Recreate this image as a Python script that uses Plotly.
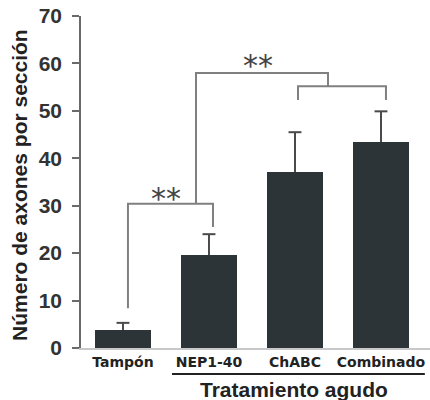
import plotly.graph_objects as go

categories = ["Tampón", "NEP1-40", "ChABC", "Combinado"]
means = [3.8, 19.6, 37.1, 43.4]
errors = [1.5, 4.4, 8.4, 6.5]
y_ticks = [0, 10, 20, 30, 40, 50, 60, 70]
y_title = "Número de axones por sección"
group_label = "Tratamiento agudo"
sig_label = "**"

# brackets: (x points, y points) in data units
bracket1_x = [0.058, 0.058, 1.047, 1.047]
bracket1_y = [8.4, 30.4, 30.4, 25.5]
bracket2_x = [0.849, 0.849, 2.384, 2.384]
bracket2_y = [30.4, 58.0, 58.0, 55.2]
bracket3_x = [2.035, 2.035, 3.058, 3.058]
bracket3_y = [52.3, 55.2, 55.2, 52.3]

xpos = list(range(len(categories)))

fig = go.Figure()
fig.add_trace(go.Bar(
    x=xpos, y=means, width=0.645,
    marker=dict(color="#2c3437", line=dict(width=0)),
    showlegend=False,
))

# upper error bars (stem + cap) built from the data arrays
cap_half = 0.075
ex, ey = [], []
for xi, m, e in zip(xpos, means, errors):
    ex += [xi, xi, None, xi - cap_half, xi + cap_half, None]
    ey += [m, m + e, None, m + e, m + e, None]
fig.add_trace(go.Scatter(x=ex, y=ey, mode="lines",
                         line=dict(color="#4a4a4a", width=2),
                         showlegend=False, hoverinfo="skip"))

bl = dict(color="#808080", width=2)
for bx, by in [(bracket1_x, bracket1_y), (bracket2_x, bracket2_y), (bracket3_x, bracket3_y)]:
    fig.add_trace(go.Scatter(x=bx, y=by, mode="lines", line=bl,
                             showlegend=False, hoverinfo="skip"))

star_font = dict(family="DejaVu Sans", size=30, color="#444444")
fig.add_annotation(x=0.5, y=31.6, xref="x", yref="y", text=sig_label,
                   showarrow=False, xanchor="center", yanchor="middle", font=star_font)
fig.add_annotation(x=1.570, y=59.5, xref="x", yref="y", text=sig_label,
                   showarrow=False, xanchor="center", yanchor="middle", font=star_font)

# group underline and label
fig.add_shape(type="line", xref="x", yref="paper", x0=0.57, x1=3.51,
              y0=-0.078, y1=-0.078, line=dict(color="#222222", width=2))
fig.add_annotation(x=1.983, y=-0.1235, xref="x", yref="paper",
                   text="<b>" + group_label + "</b>",
                   showarrow=False, xanchor="center", yanchor="middle",
                   font=dict(family="Liberation Sans", size=21, color="#222222"))
fig.add_annotation(x=-0.175, y=0.491, xref="paper", yref="paper",
                   text="<b>" + y_title + "</b>",
                   showarrow=False, textangle=-90, xanchor="center", yanchor="middle",
                   font=dict(family="Liberation Sans", size=21, color="#222222"))

fig.update_layout(
    width=430, height=400,
    margin=dict(l=81, r=0, t=16, b=52),
    paper_bgcolor="white", plot_bgcolor="white",
    bargap=0,
    xaxis=dict(range=[-0.488, 3.57], tickvals=xpos,
               ticktext=["<b>" + c + "</b>" for c in categories],
               tickfont=dict(family="DejaVu Sans", size=14, color="#222222"),
               showline=True, linecolor="#c8c8c8", linewidth=1.5,
               ticks="", showgrid=False, zeroline=False, fixedrange=True),
    yaxis=dict(range=[0, 70], tickvals=y_ticks,
               ticktext=["<b>%d</b>" % v for v in y_ticks],
               tickfont=dict(family="Liberation Sans", size=21, color="#333333"),
               showline=True, linecolor="#6a6a6a", linewidth=1.5,
               ticks="outside", ticklen=7, tickcolor="#6a6a6a", tickwidth=1.5,
               ticklabelstandoff=6,
               showgrid=False, zeroline=False, fixedrange=True),
)

fig.write_html("out.html", config={"displayModeBar": False},
               post_script="document.body.style.margin='0';document.body.style.overflow='hidden';")
